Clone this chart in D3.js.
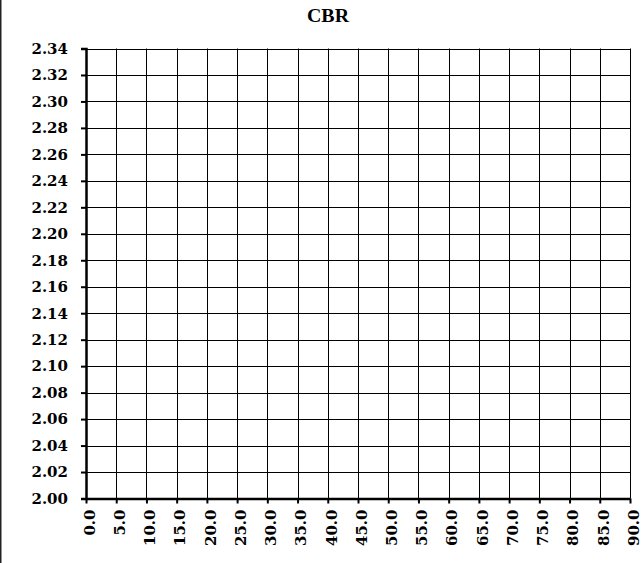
<!DOCTYPE html>
<html><head><meta charset="utf-8">
<script src="https://cdn.jsdelivr.net/npm/d3@7"></script>
<style>body{margin:0;background:#fff}svg{display:block}</style>
</head><body>
<script>
const title = "CBR";
const xTicks = [0,5,10,15,20,25,30,35,40,45,50,55,60,65,70,75,80,85,90];
const yTicks = [2.00,2.02,2.04,2.06,2.08,2.10,2.12,2.14,2.16,2.18,2.20,2.22,2.24,2.26,2.28,2.30,2.32,2.34];
const xDomain = [0, 90];
const yDomain = [2.00, 2.34];

const W = 642, H = 563;
const font = "Georgia, 'DejaVu Serif', serif";
const svg = d3.select("body").append("svg").attr("width", W).attr("height", H);
svg.append("rect").attr("width", W).attr("height", H).attr("fill", "#fff");
svg.append("line").attr("x1", 0.75).attr("x2", 0.75).attr("y1", 0).attr("y2", H)
  .attr("stroke", "#222").attr("stroke-width", 1.5);

const x = d3.scaleLinear().domain(xDomain).range([86, 630]);
const y = d3.scaleLinear().domain(yDomain).range([498.5, 48.5]);

svg.append("text").attr("x", 328).attr("y", 22).attr("text-anchor", "middle")
  .attr("font-family", "'Liberation Serif', 'Times New Roman', serif").attr("font-weight", "bold")
  .attr("font-size", 18).attr("textLength", 42).attr("lengthAdjust", "spacingAndGlyphs").text(title);

// grid
svg.append("g").selectAll("line").data(yTicks).join("line")
  .attr("x1", x(xDomain[0])).attr("x2", x(xDomain[1]))
  .attr("y1", d => Math.round(y(d)) + 0.5).attr("y2", d => Math.round(y(d)) + 0.5)
  .attr("stroke", "#000").attr("stroke-width", 1);
svg.append("g").selectAll("line").data(xTicks).join("line")
  .attr("x1", d => Math.round(x(d)) + 0.5).attr("x2", d => Math.round(x(d)) + 0.5)
  .attr("y1", y(yDomain[0])).attr("y2", y(yDomain[1]))
  .attr("stroke", "#000").attr("stroke-width", 1);

// axes
const yAxis = svg.append("g").attr("transform", `translate(${x(0)},0)`)
  .call(d3.axisLeft(y).tickValues(yTicks).tickFormat(d3.format(".2f")).tickSize(5).tickPadding(13));
yAxis.select(".domain").attr("stroke-width", 2.5);
yAxis.selectAll(".tick line").attr("stroke-width", 2);
yAxis.selectAll("text").attr("font-family", font).attr("font-weight", "bold").attr("font-size", 15).attr("fill", "#000");

const xAxis = svg.append("g").attr("transform", `translate(0,${y(2.00)})`)
  .call(d3.axisBottom(x).tickValues(xTicks).tickFormat(d3.format(".1f")).tickSize(5).tickSizeOuter(0));
xAxis.select(".domain").attr("stroke-width", 2.5);
xAxis.selectAll(".tick line").attr("stroke-width", 2);
xAxis.selectAll("text")
  .attr("font-family", font).attr("font-weight", "bold").attr("font-size", 15).attr("fill", "#000")
  .attr("transform", "rotate(-90)").attr("text-anchor", "end")
  .attr("x", -11).attr("y", 3).attr("dy", "0.35em");
</script>
</body></html>
